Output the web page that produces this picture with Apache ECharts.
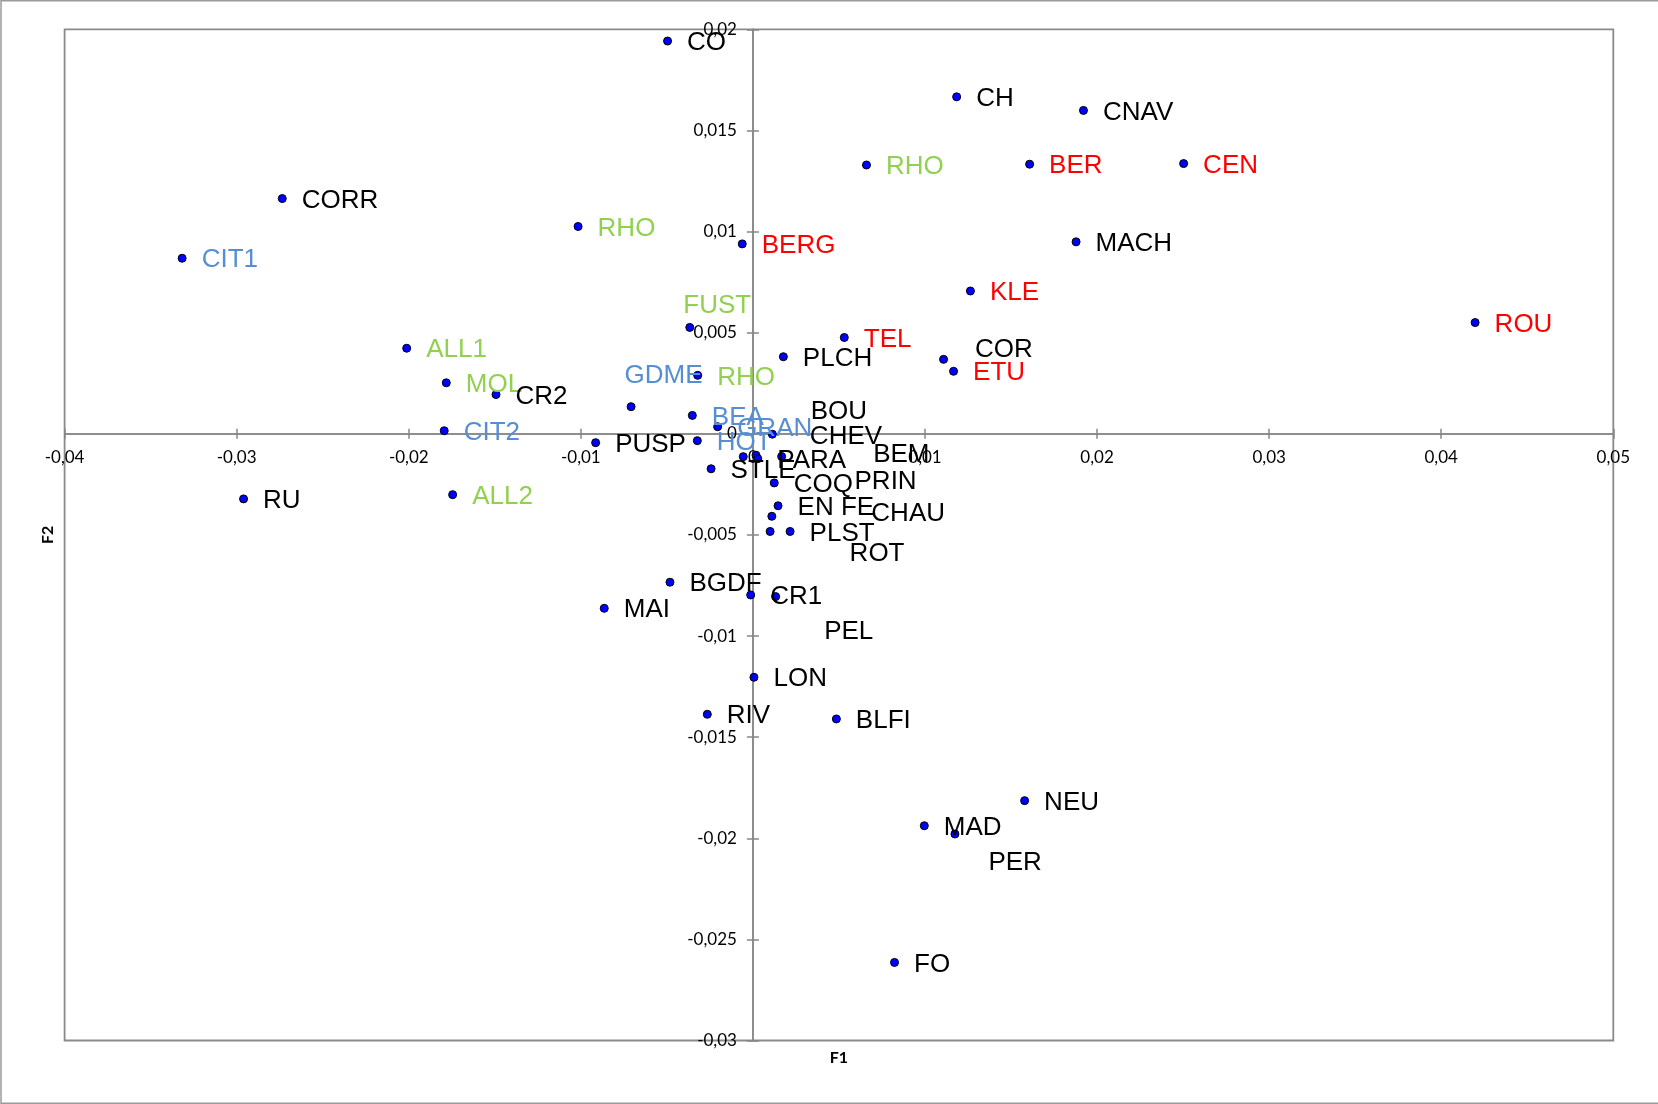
<!DOCTYPE html>
<html>
<head>
<meta charset="utf-8">
<script src="https://cdn.jsdelivr.net/npm/echarts@6/dist/echarts.min.js"></script>
<style>
html,body{margin:0;padding:0;background:#fff;}
#chart{width:1658px;height:1104px;}
</style>
</head>
<body>
<div id="chart"></div>
<script>
// ---- data ----
const names = ['CO','CH','CNAV','RHO','BER','CEN','CORR','RHO','CIT1','BERG','MACH','KLE','ROU','FUST','ALL1','TEL','PLCH','COR','ETU','GDME','RHO','MOL','CR2','BEA','CIT2','GRAN','HOT','PUSP','RU','ALL2','STLE','CHEV','BOU','PRIN','PARA','BEM','COQ','EN FE','CHAU','ROT','PLST','BGDF','CR1','PEL','MAI','LON','RIV','BLFI','NEU','MAD','PER','FO'];
const f1 = [-0.00496,0.01184,0.01921,0.00660,0.01608,0.02503,-0.02735,-0.01016,-0.03317,-0.00062,0.01878,0.01264,0.04197,-0.00367,-0.02012,0.00531,0.00177,0.01108,0.01166,-0.00708,-0.00321,-0.01782,-0.01493,-0.00352,-0.01794,-0.00205,-0.00323,-0.00914,-0.02960,-0.01745,-0.00243,0.00113,-0.00056,0.00018,0.00028,0.00167,0.00124,0.00146,0.00110,0.00100,0.00216,-0.00482,-0.00013,0.00132,-0.00864,0.00006,-0.00265,0.00485,0.01579,0.00996,0.01174,0.00823];
const f2 = [0.01942,0.01666,0.01599,0.01329,0.01333,0.01336,0.01163,0.01025,0.00868,0.00939,0.00949,0.00706,0.00550,0.00526,0.00423,0.00476,0.00381,0.00368,0.00309,0.00134,0.00289,0.00252,0.00194,0.00091,0.00015,0.00035,-0.00034,-0.00044,-0.00322,-0.00301,-0.00173,-0.00002,-0.00113,-0.00106,-0.00123,-0.00112,-0.00243,-0.00356,-0.00408,-0.00483,-0.00483,-0.00734,-0.00797,-0.00805,-0.00863,-0.01204,-0.01387,-0.01410,-0.01814,-0.01938,-0.01979,-0.02614];
const groups = ['k','k','k','g','r','r','k','g','b','r','k','r','r','g','g','r','k','k','r','b','g','g','k','b','b','b','b','k','k','g','k','k','k','k','k','k','k','k','k','k','k','k','k','k','k','k','k','k','k','k','k','k'];
const xTicks = {min:-0.04, max:0.05, interval:0.01};
const yTicks = {min:-0.03, max:0.02, interval:0.005};

// ---- style / layout ----
const groupColor = {k:'#000000', r:'#ff0000', g:'#92d050', b:'#558ed5'};
// label shifts (px) for labels moved away from the default right-hand position
const labelShift = {
  'GDME':[-26,-33], 'FUST':[-26,-24], 'CHEV':[18,1], 'BOU':[48,-47], 'BEM':[72,-4],
  'PRIN':[79,25], 'CHAU':[80,-4], 'ROT':[60,20], 'PEL':[29,33], 'PER':[14,27], 'COR':[12,-12]
};
const labelBaseDy = 2;
const G = {left: 64.6, top: 29.3, width: 1548.7, height: 1011.2};
const axisColor = '#868686';
const tickFont = 'Lato, "DejaVu Sans", sans-serif';
const fmt = v => Math.abs(v) < 1e-12 ? '0' : String(parseFloat(v.toFixed(4))).replace('.', ',');

// distance from the grid edge to the zero line (labels are laid out from the edge)
const zeroFromBottom = G.height * (0 - yTicks.min) / (yTicks.max - yTicks.min);
const zeroFromLeft = G.width * (0 - xTicks.min) / (xTicks.max - xTicks.min);

const seriesData = names.map((n, i) => {
  const s = labelShift[n] || [0, 0];
  return {name: n, value: [f1[i], f2[i]],
          label: {color: groupColor[groups[i]], offset: [s[0], s[1] + labelBaseDy]}};
});

const lineStyle = {color: axisColor, width: 1.5};
function tickAxis(ticks, pos, labelMargin, tickLen) {
  return {
    type: 'value', min: ticks.min, max: ticks.max, interval: ticks.interval, position: pos,
    axisLine: {show: true, onZero: true, onZeroAxisIndex: 0, lineStyle: lineStyle},
    axisTick: {show: true, length: tickLen, lineStyle: lineStyle},
    axisLabel: labelMargin != null
      ? {show: true, formatter: fmt, fontFamily: tickFont, fontSize: 17, color: '#000', margin: labelMargin, hideOverlap: false}
      : {show: false},
    splitLine: {show: false}
  };
}
function nameAxis(ticks, pos, name) {
  return {
    type: 'value', min: ticks.min, max: ticks.max, interval: ticks.interval, position: pos,
    axisLine: {show: false, onZero: false}, axisTick: {show: false}, axisLabel: {show: false},
    splitLine: {show: false}, name: name, nameLocation: 'middle', nameGap: 9,
    nameTextStyle: {fontFamily: tickFont, fontWeight: 'bold', fontSize: 16, color: '#000'}
  };
}

const option = {
  animation: false,
  backgroundColor: '#ffffff',
  grid: Object.assign({containLabel: false, outerBoundsMode: 'none', show: true,
         borderColor: '#8a8a8a', borderWidth: 1.8, backgroundColor: 'transparent'}, G),
  xAxis: [tickAxis(xTicks, 'bottom', 15 - zeroFromBottom, 5), tickAxis(xTicks, 'top', null, 5), nameAxis(xTicks, 'bottom', 'F1')],
  yAxis: [tickAxis(yTicks, 'left', 16 - zeroFromLeft, 6), tickAxis(yTicks, 'right', null, 6), nameAxis(yTicks, 'left', 'F2')],
  graphic: [{
    type: 'rect', silent: true, z: -1,
    shape: {x: 1, y: 0.75, width: 1700, height: 1102.5},
    style: {fill: 'none', stroke: '#9a9a9a', lineWidth: 1.5}
  }],
  series: [{
    type: 'scatter', xAxisIndex: 0, yAxisIndex: 0,
    symbol: 'circle', symbolSize: 8,
    itemStyle: {color: '#0000ff', borderColor: '#000000', borderWidth: 1, opacity: 1},
    label: {show: true, position: 'right', distance: 15, formatter: p => p.name,
            fontFamily: '"Liberation Sans", Arial, sans-serif', fontSize: 26},
    emphasis: {disabled: true},
    data: seriesData
  }]
};

const chart = echarts.init(document.getElementById('chart'), null, {renderer: 'canvas'});
chart.setOption(option);
</script>
</body>
</html>
